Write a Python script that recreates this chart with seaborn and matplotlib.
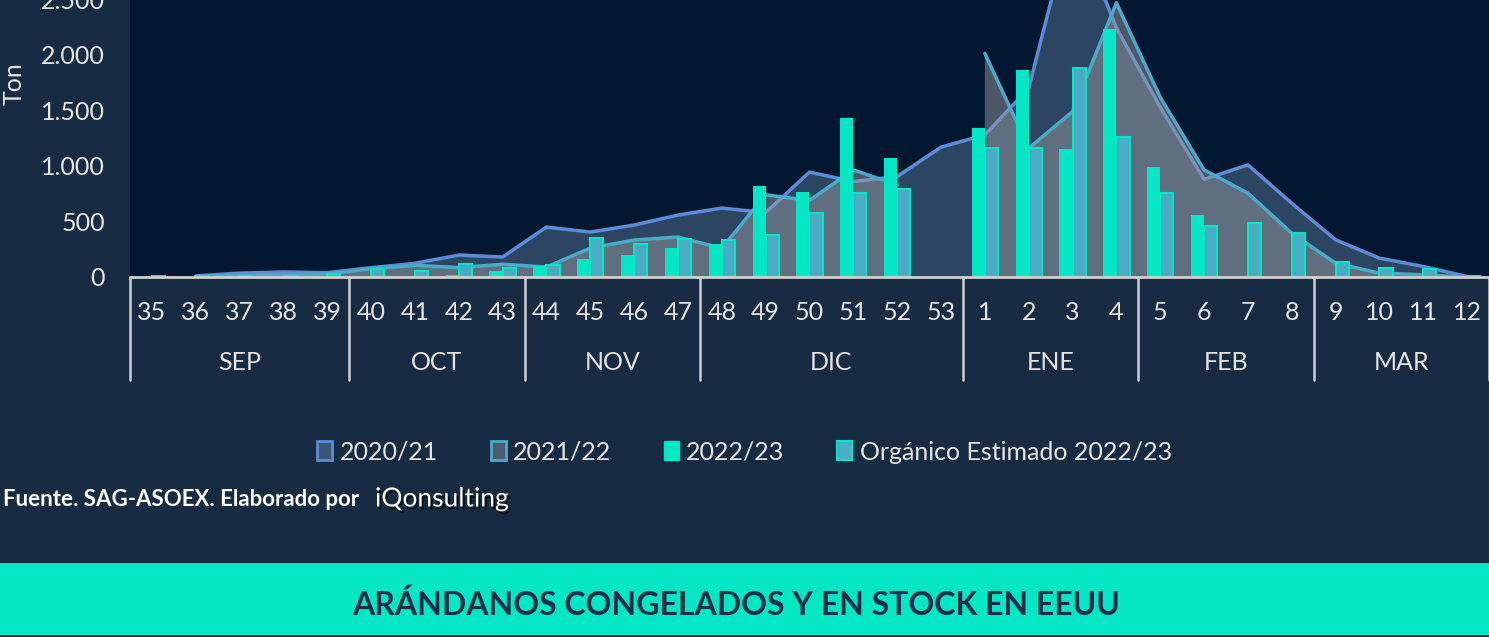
import numpy as np
import pandas as pd
import matplotlib
matplotlib.use("Agg")
import matplotlib.pyplot as plt
import seaborn as sns
from matplotlib.patches import Patch, Rectangle
from matplotlib import transforms
import matplotlib.patheffects as pe

# Semanas de la temporada (sep -> mar)
semanas = list(range(35, 54)) + list(range(1, 13))
meses = ["SEP", "OCT", "NOV", "DIC", "ENE", "FEB", "MAR"]
semanas_por_mes = [5, 4, 4, 6, 4, 4, 4]

nan = np.nan
# Toneladas por semana
ton_2020_21 = [nan, 10, 35, 45, 39, 84, 123, 198, 180, 450, 405, 468, 558, 621, 580,
               945, 860, 905, 1170, 1280, 1700, 3240, 2245, 1530, 880, 1010, 665,
               335, 170, 95, 5]
ton_2021_22 = [nan, 5, 15, 20, 27, 75, 105, 85, 115, 90, 260, 333, 360, 260, 740,
               690, 965, 830, nan, 2015, 1160, 1490, 2470, 1620, 965, 755, 395,
               125, 35, 20, 0]
ton_2022_23 = [0, 0, 0, 0, 0, 0, 3, 15, 55, 100, 160, 195, 260, 297, 820,
               765, 1430, 1070, nan, 1340, 1865, 1150, 2230, 995, 560, nan, nan,
               nan, nan, nan, nan]
ton_organico = [10, 8, 6, 8, 30, 75, 55, 115, 80, 108, 350, 295, 340, 330, 377,
                575, 755, 790, nan, 1160, 1160, 1880, 1265, 755, 460, 485, 400,
                135, 85, 70, 5]

fondo = "#172B42"
fondo_plot = "#011830"
azul = "#5B8BD9"
celeste = "#4AAAC8"
verde = "#05E6C4"
organico_c = "#4AABC5"
texto = "#E6E6E6"
linea_eje = "#CFCFCF"

sns.set_theme(style="white")
plt.rcParams['font.family'] = ['Lato', 'DejaVu Sans']

W, H = 1489, 637
fig = plt.figure(figsize=(W / 100, H / 100), dpi=100, facecolor=fondo)
# el eje sube por encima de la figura (el original esta recortado arriba)
ax = fig.add_axes([130 / W, (H - 277) / H, 1359 / W, 388.5 / H])
ax.set_facecolor(fondo_plot)

pos = np.arange(len(semanas))
y20 = np.array(ton_2020_21, dtype=float)
y21 = np.array(ton_2021_22, dtype=float)

# Areas + lineas de temporadas anteriores
ax.fill_between(pos, y20, color="#7A9BC0", alpha=0.35, lw=0, zorder=1)
df20 = pd.DataFrame({"pos": pos, "ton": y20}).dropna()
sns.lineplot(data=df20, x="pos", y="ton", color=azul, lw=2.5, ax=ax, zorder=2)

ax.fill_between(pos, y21, color="#94999E", alpha=0.5, lw=0, zorder=3)
df21 = pd.DataFrame({"pos": pos, "ton": y21, "tramo": (pos > 18).astype(int)}).dropna()
sns.lineplot(data=df21, x="pos", y="ton", units="tramo", estimator=None,
             color=celeste, lw=2.5, ax=ax, zorder=4)

# Barras temporada actual y organico
df_bar = pd.concat([
    pd.DataFrame({"pos": pos, "serie": "2022/23", "ton": ton_2022_23}),
    pd.DataFrame({"pos": pos, "serie": "Orgánico Estimado 2022/23", "ton": ton_organico}),
], ignore_index=True)
sns.barplot(data=df_bar, x="pos", y="ton", hue="serie",
            hue_order=["2022/23", "Orgánico Estimado 2022/23"],
            palette=[verde, organico_c], saturation=1, width=0.6, gap=0,
            errorbar=None, legend=False, ax=ax, zorder=5)
for bar in ax.containers[0]:
    bar.set_linewidth(0)
    bar.set_zorder(5)
for bar in ax.containers[1]:
    bar.set_edgecolor(verde)
    bar.set_linewidth(1.5)
    bar.set_zorder(5)

ax.set_xlim(-0.5, len(semanas) - 0.5)
ax.set_ylim(0, 3500)
ax.set_xticks([])
ax.set_yticks(range(0, 3001, 500))
ax.set_yticklabels([f"{v:,.0f}".replace(",", ".") for v in range(0, 3001, 500)])
ax.tick_params(axis="y", length=0, pad=18, labelsize=18, labelcolor=texto)
ax.set_xlabel("")
ax.set_ylabel("")
for s in ax.spines.values():
    s.set_visible(False)
ax.axhline(0, color=linea_eje, lw=2, zorder=6, clip_on=False)

# Eje x de dos niveles: semanas y meses
tr = transforms.blended_transform_factory(ax.transData, fig.transFigure)
for i, s in enumerate(semanas):
    ax.text(i, (H - 312) / H, str(s), transform=tr, ha="center", va="center",
            fontsize=18, color=texto)
inicio = 0
limites = [-0.5]
for mes, n in zip(meses, semanas_por_mes):
    ax.text(inicio + (n - 1) / 2, (H - 362) / H, mes, transform=tr, ha="center",
            va="center", fontsize=18, color=texto)
    inicio += n
    limites.append(inicio - 0.5)
for b in limites:
    ax.plot([b, b], [(H - 277) / H, (H - 380) / H], transform=tr, color=linea_eje,
            lw=1.8, clip_on=False)

fig.text(14 / W, (H - 84) / H, "Ton", rotation=90, ha="center", va="center",
         fontsize=18, color=texto)

# Leyenda
handles = [
    Patch(facecolor="#3A5576", edgecolor=azul, lw=2),
    Patch(facecolor="#4B5E70", edgecolor=celeste, lw=2),
    Patch(facecolor=verde, edgecolor=verde),
    Patch(facecolor=organico_c, edgecolor=verde, lw=1.5),
]
labels = ["2020/21", "2021/22", "2022/23", "Orgánico Estimado 2022/23"]
fig.legend(handles, labels, loc="center", bbox_to_anchor=(0.5, (H - 452) / H),
           ncol=4, frameon=False, fontsize=18, handlelength=0.6, handleheight=0.8,
           handletextpad=0.3, columnspacing=2.1, labelcolor=texto)

# Fuente
fig.text(3 / W, (H - 499) / H, "Fuente. SAG-ASOEX. Elaborado por", ha="left",
         va="center", fontsize=16, weight="bold", color="white")
fig.text(375 / W, (H - 499) / H, "iQonsulting", ha="left", va="center",
         fontsize=19, color="white",
         path_effects=[pe.withSimplePatchShadow(offset=(1.5, -2), shadow_rgbFace="black", alpha=0.6)])

# Banda inferior con titulo
fig.add_artist(Rectangle((0, (H - 635) / H), 1, (635 - 563) / H,
                         transform=fig.transFigure, facecolor=verde, lw=0))
fig.text(736 / W, (H - 605) / H, "ARÁNDANOS CONGELADOS Y EN STOCK EN EEUU",
         ha="center", va="center", fontsize=23, weight="bold", color="#16304A")

fig.savefig("out.png", dpi=100, facecolor=fig.get_facecolor())
